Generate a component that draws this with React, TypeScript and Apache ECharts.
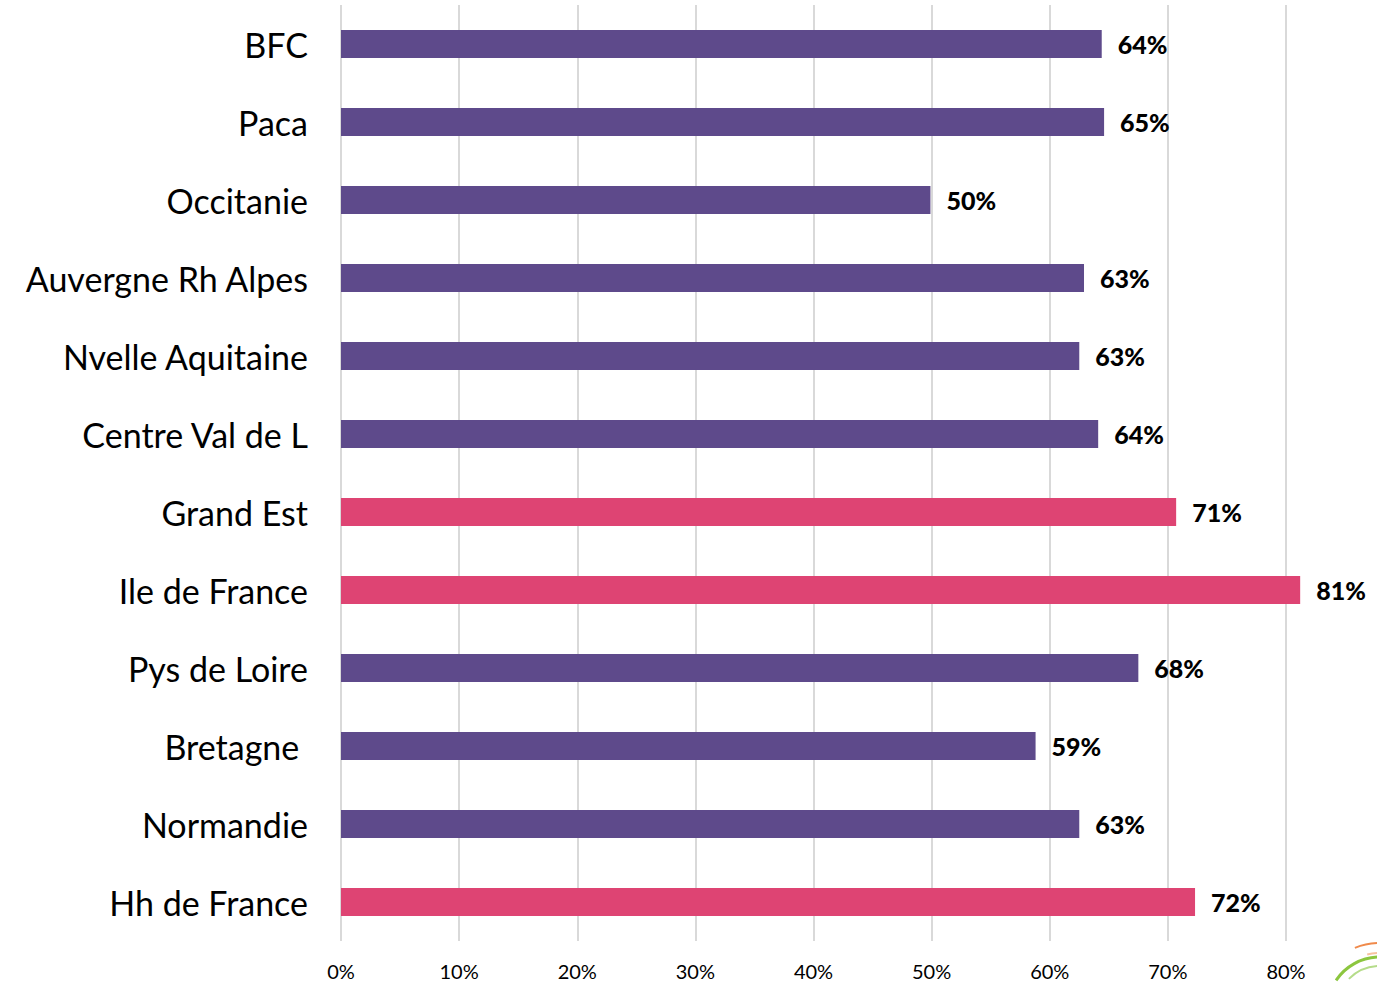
import React, { useEffect, useRef } from "react";
import * as echarts from "echarts";

const categories = [
  "BFC",
  "Paca",
  "Occitanie",
  "Auvergne Rh Alpes",
  "Nvelle Aquitaine",
  "Centre Val de L",
  "Grand Est",
  "Ile de France",
  "Pys de Loire",
  "Bretagne ",
  "Normandie",
  "Hh de France",
];
const values = [64.4, 64.6, 49.9, 62.9, 62.5, 64.1, 70.7, 81.2, 67.5, 58.8, 62.5, 72.3];
const highlighted = [false, false, false, false, false, false, true, true, false, false, false, true];
const xTicks = [0, 10, 20, 30, 40, 50, 60, 70, 80];

const PURPLE = "#5e4a8b";
const PINK = "#de4473";

const deg = (d: number) => (d * Math.PI) / 180;

export default function App() {
  const ref = useRef<HTMLDivElement>(null);
  useEffect(() => {
    const chart = echarts.init(ref.current!, null, { renderer: "svg" });
    chart.setOption({
      animation: false,
      textStyle: { fontFamily: "Lato" },
      grid: { left: 341, right: 91, top: 5, bottom: 42, containLabel: false },
      xAxis: {
        type: "value",
        min: xTicks[0],
        max: xTicks[xTicks.length - 1],
        interval: 10,
        axisLine: { show: false },
        axisTick: { show: false },
        splitLine: { show: true, lineStyle: { color: "#d9d9d9", width: 2 } },
        axisLabel: {
          formatter: (v: number) => `${v}%`,
          color: "#000",
          fontSize: 20,
          margin: 20,
          fontFamily: "Lato",
        },
      },
      yAxis: {
        type: "category",
        data: categories,
        inverse: true,
        axisLine: { show: false },
        axisTick: { show: false },
        axisLabel: { color: "#000", fontSize: 34, margin: 33, fontFamily: "Lato" },
      },
      series: [
        {
          type: "bar",
          clip: false,
          barWidth: 28,
          data: values.map((v, i) => ({
            value: v,
            itemStyle: { color: highlighted[i] ? PINK : PURPLE },
          })),
          label: {
            show: true,
            position: "right",
            distance: 16,
            formatter: (p: any) => `${Math.round(p.value)}%`,
            color: "#000",
            fontSize: 25,
            fontWeight: 900,
            fontFamily: "Lato",
          },
        },
      ],
      graphic: [
        {
          type: "arc",
          shape: { cx: 1380, cy: 1010, r: 53, startAngle: deg(214), endAngle: deg(268) },
          style: { stroke: "#8cc63f", lineWidth: 3, fill: "none" },
        },
        {
          type: "arc",
          shape: { cx: 1380, cy: 1010, r: 44, startAngle: deg(225), endAngle: deg(268) },
          style: { stroke: "#b5dc8a", lineWidth: 2, fill: "none" },
        },
        {
          type: "arc",
          shape: { cx: 1380, cy: 1010, r: 67, startAngle: deg(248), endAngle: deg(268) },
          style: { stroke: "#f08a4b", lineWidth: 2, fill: "none" },
        },
        {
          type: "arc",
          shape: { cx: 1380, cy: 1010, r: 57, startAngle: deg(257), endAngle: deg(268) },
          style: { stroke: "#f7c3a0", lineWidth: 2, fill: "none" },
        },
      ],
    });
    return () => chart.dispose();
  }, []);
  return <div ref={ref} style={{ width: 1377, height: 983, position: "absolute", left: 0, top: 0 }} />;
}
